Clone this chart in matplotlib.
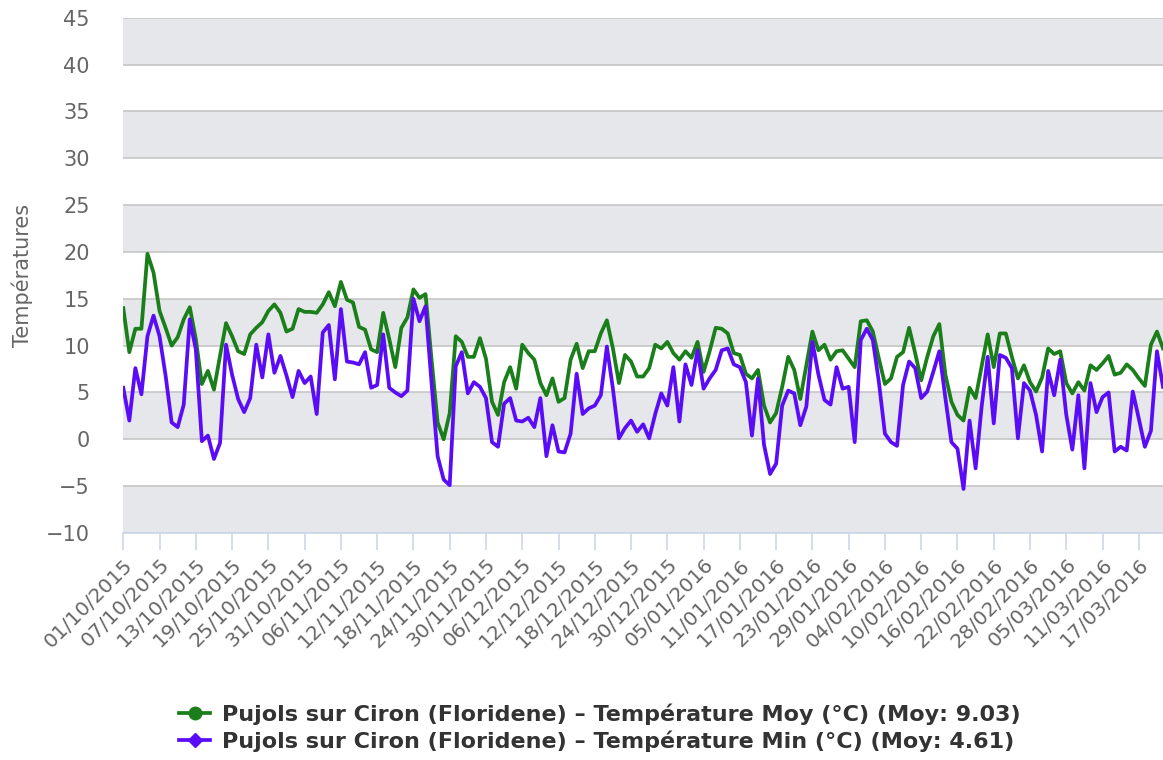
import numpy as np
import pandas as pd
import matplotlib
matplotlib.use("Agg")
import matplotlib.pyplot as plt
from matplotlib.lines import Line2D

# Daily values, 01/10/2015 -> 21/03/2016
dates = pd.date_range("2015-10-01", periods=173, freq="D")

temp_moy = [
    14.0, 9.3, 11.8, 11.8, 19.8, 17.8, 13.7, 11.9, 10.0, 10.9,
    12.8, 14.1, 10.7, 5.9, 7.3, 5.3, 8.9, 12.4, 11.0, 9.4,
    9.1, 11.2, 11.9, 12.5, 13.7, 14.4, 13.5, 11.5, 11.8, 13.9,
    13.6, 13.6, 13.5, 14.4, 15.7, 14.2, 16.8, 14.9, 14.6, 12.0,
    11.7, 9.6, 9.3, 13.5, 10.7, 7.7, 11.9, 13.0, 16.0, 15.1,
    15.5, 8.5, 1.8, 0.0, 2.8, 11.0, 10.4, 8.8, 8.8, 10.8,
    8.6, 4.0, 2.6, 6.1, 7.7, 5.4, 10.1, 9.2, 8.5, 6.0,
    4.7, 6.5, 4.0, 4.4, 8.5, 10.2, 7.6, 9.4, 9.4, 11.3,
    12.7, 9.7, 6.0, 9.0, 8.3, 6.7, 6.7, 7.6, 10.1, 9.7,
    10.4, 9.2, 8.5, 9.4, 8.7, 10.4, 7.2, 9.4, 11.9, 11.8,
    11.3, 9.2, 9.0, 7.0, 6.5, 7.4, 3.6, 1.8, 2.8, 5.6,
    8.8, 7.4, 4.3, 7.9, 11.5, 9.5, 10.1, 8.5, 9.4, 9.5,
    8.6, 7.7, 12.6, 12.7, 11.5, 8.6, 5.9, 6.5, 8.8, 9.3,
    11.9, 9.2, 6.3, 8.8, 11.0, 12.3, 6.9, 4.0, 2.6, 2.0,
    5.5, 4.4, 7.8, 11.2, 7.7, 11.3, 11.3, 8.8, 6.5, 7.9,
    6.1, 5.1, 6.6, 9.7, 9.1, 9.4, 6.0, 4.9, 6.1, 5.2,
    7.9, 7.4, 8.1, 8.9, 6.9, 7.1, 8.0, 7.4, 6.5, 5.7,
    10.1, 11.5, 9.7,
]

temp_min = [
    5.5, 2.0, 7.6, 4.8, 11.0, 13.2, 11.0, 6.8, 1.8, 1.3,
    3.7, 12.8, 9.6, -0.2, 0.4, -2.1, -0.4, 10.1, 6.9, 4.3,
    2.9, 4.4, 10.1, 6.6, 11.2, 7.1, 8.9, 6.8, 4.5, 7.3,
    6.0, 6.7, 2.7, 11.4, 12.2, 6.4, 13.9, 8.3, 8.2, 8.0,
    9.3, 5.5, 5.8, 11.2, 5.5, 5.0, 4.6, 5.2, 15.0, 12.6,
    14.2, 6.0, -1.8, -4.3, -4.9, 7.8, 9.3, 4.9, 6.1, 5.6,
    4.4, -0.3, -0.8, 3.8, 4.4, 2.0, 1.9, 2.3, 1.3, 4.4,
    -1.8, 1.5, -1.3, -1.4, 0.6, 7.0, 2.7, 3.3, 3.6, 4.7,
    9.9, 5.4, 0.1, 1.2, 2.0, 0.8, 1.6, 0.1, 2.7, 4.9,
    3.6, 7.7, 1.9, 8.0, 5.8, 9.5, 5.4, 6.5, 7.4, 9.5,
    9.7, 8.0, 7.7, 6.1, 0.4, 6.5, -0.6, -3.7, -2.6, 3.6,
    5.2, 4.9, 1.5, 3.5, 10.4, 6.9, 4.2, 3.7, 7.7, 5.4,
    5.6, -0.3, 10.6, 11.8, 10.6, 6.1, 0.6, -0.3, -0.7, 5.8,
    8.3, 7.6, 4.4, 5.1, 7.2, 9.4, 4.4, -0.3, -1.0, -5.3,
    2.0, -3.1, 3.5, 8.8, 1.7, 9.0, 8.7, 7.6, 0.1, 6.0,
    5.2, 2.6, -1.3, 7.3, 4.7, 8.5, 2.6, -1.1, 4.7, -3.1,
    6.0, 2.9, 4.5, 5.0, -1.3, -0.8, -1.2, 5.1, 2.2, -0.8,
    0.9, 9.4, 5.6,
]

label_moy = "Pujols sur Ciron (Floridene) – Température Moy (°C) (Moy: 9.03)"
label_min = "Pujols sur Ciron (Floridene) – Température Min (°C) (Moy: 4.61)"

green = "#1a7e1a"
purple = "#5a0cf7"
band = "#e6e7eb"
text_grey = "#666666"

fig = plt.figure(figsize=(11.63, 7.6), dpi=100)
ax = fig.add_axes([0.106, 0.2987, 0.894, 0.678])

# alternating grey bands
for lo in range(-10, 45, 10):
    ax.axhspan(lo, lo + 5, color=band, lw=0, zorder=0)

ax.plot(dates, temp_moy, color=green, lw=2.7, zorder=3, solid_joinstyle="round")
ax.plot(dates, temp_min, color=purple, lw=2.7, zorder=3, solid_joinstyle="round")

ax.set_ylim(-10, 45)
ax.set_xlim(dates[0], dates[-1])
ax.set_yticks(range(-10, 50, 5))
ax.yaxis.grid(True, color="#c6c6c6", lw=1.2, zorder=1)
ax.set_axisbelow(True)

tick_dates = dates[::6]
ax.set_xticks(tick_dates)
ax.set_xticklabels([d.strftime("%d/%m/%Y") for d in tick_dates],
                   rotation=45, ha="right", va="top", rotation_mode="anchor",
                   fontsize=14.5, color=text_grey)
ax.tick_params(axis="x", length=12, width=1.2, color="#ccd6eb", pad=4)
ax.tick_params(axis="y", length=0, pad=24, labelsize=15, labelcolor=text_grey)

for side in ["top", "left", "right"]:
    ax.spines[side].set_visible(False)
ax.spines["bottom"].set_color("#ccd6eb")
ax.spines["bottom"].set_linewidth(1.2)

fig.text(22 / 1163, 1 - 275 / 760, "Températures", rotation=90,
         ha="center", va="center", fontsize=15, color=text_grey)

handles = [
    Line2D([], [], color=green, lw=2.7, marker="o", markersize=9),
    Line2D([], [], color=purple, lw=2.7, marker="D", markersize=7),
]
fig.legend(handles, [label_moy, label_min], loc="center",
           bbox_to_anchor=(600 / 1163, 1 - 728 / 760), frameon=False,
           prop={"weight": "bold", "size": 16}, labelcolor="#333333",
           handlelength=1.4, handletextpad=0.55, labelspacing=0.25)

fig.savefig("out.png", dpi=100)
